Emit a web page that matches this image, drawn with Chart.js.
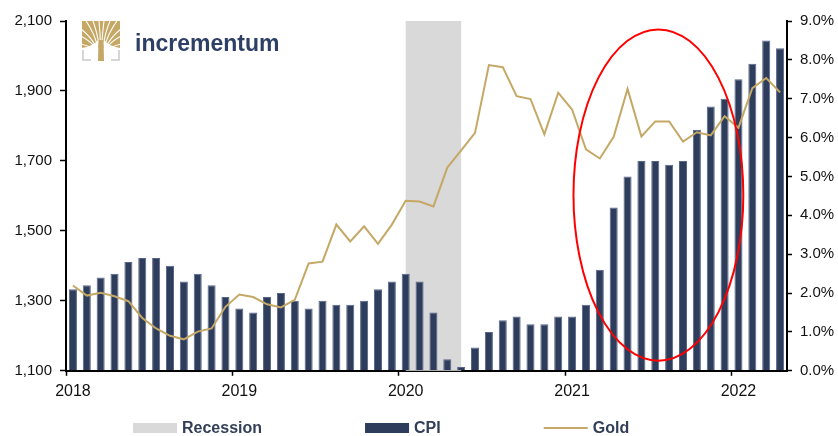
<!DOCTYPE html>
<html>
<head>
<meta charset="utf-8">
<script src="https://cdn.jsdelivr.net/npm/chart.js@4.4.0/dist/chart.umd.min.js"></script>
<style>
  html, body { margin: 0; padding: 0; background: #fff; }
  #wrap { width: 838px; height: 436px; position: relative; }
</style>
</head>
<body>
<div id="wrap"><canvas id="chart"></canvas></div>
<script>
// monthly categories, Jan 2018 - Apr 2022
const months = [
  "2018-01", "2018-02", "2018-03", "2018-04", "2018-05", "2018-06",
  "2018-07", "2018-08", "2018-09", "2018-10", "2018-11", "2018-12",
  "2019-01", "2019-02", "2019-03", "2019-04", "2019-05", "2019-06",
  "2019-07", "2019-08", "2019-09", "2019-10", "2019-11", "2019-12",
  "2020-01", "2020-02", "2020-03", "2020-04", "2020-05", "2020-06",
  "2020-07", "2020-08", "2020-09", "2020-10", "2020-11", "2020-12",
  "2021-01", "2021-02", "2021-03", "2021-04", "2021-05", "2021-06",
  "2021-07", "2021-08", "2021-09", "2021-10", "2021-11", "2021-12",
  "2022-01", "2022-02", "2022-03", "2022-04",
];

// US CPI, % yoy (right axis)
const cpiValues = [
  2.1, 2.2, 2.4, 2.5, 2.8, 2.9, 2.9, 2.7, 2.3, 2.5, 2.2, 1.9,
  1.6, 1.5, 1.9, 2.0, 1.8, 1.6, 1.8, 1.7, 1.7, 1.8, 2.1, 2.3,
  2.5, 2.3, 1.5, 0.3, 0.1, 0.6, 1.0, 1.3, 1.4, 1.2, 1.2, 1.4,
  1.4, 1.7, 2.6, 4.2, 5.0, 5.4, 5.4, 5.3, 5.4, 6.2, 6.8, 7.0,
  7.5, 7.9, 8.5, 8.3,
];

// gold in USD (left axis)
const goldValues = [
  1344, 1315, 1323, 1313, 1299, 1251, 1221, 1200, 1190, 1212, 1221, 1283,
  1318, 1311, 1290, 1281, 1303, 1407, 1412, 1518, 1470, 1513, 1463, 1518,
  1586, 1584, 1570, 1681, 1730, 1780, 1974, 1968, 1885, 1877, 1776, 1895,
  1847, 1733, 1707, 1769, 1906, 1770, 1813, 1813, 1755, 1782, 1773, 1828,
  1795, 1908, 1937, 1896,
];

const goldTicks = [1100, 1300, 1500, 1700, 1900, 2100];
const cpiTicks = [0, 1, 2, 3, 4, 5, 6, 7, 8, 9];

// recession shading, from/to category
const recessionFrom = "2020-01";
const recessionTo = "2020-05";

// highlight ellipse, in axis units (category index, gold)
const highlightX = [36.1, 48.35];
const highlightY = [1129, 2076];

const legendItems = ["Recession", "CPI", "Gold"];

const NAVY = "#2E3D5B";
const GOLD = "#C5A865";
const FONT = '"Liberation Sans", Arial, sans-serif';

Chart.defaults.font.family = FONT;
Chart.defaults.color = "#111";

const recessionShade = {
  id: "recessionShade",
  beforeDatasetsDraw(chart) {
    const { ctx, chartArea, scales } = chart;
    const x0 = scales.x.getPixelForValue(months.indexOf(recessionFrom));
    const x1 = scales.x.getPixelForValue(months.indexOf(recessionTo));
    ctx.save();
    ctx.fillStyle = "#D9D9D9";
    ctx.fillRect(x0, chartArea.top, x1 - x0, chartArea.bottom - chartArea.top);
    ctx.restore();
  },
};

const highlightEllipse = {
  id: "highlightEllipse",
  afterDatasetsDraw(chart) {
    const { ctx, scales } = chart;
    const l = scales.x.getPixelForValue(highlightX[0]);
    const r = scales.x.getPixelForValue(highlightX[1]);
    const b = scales.y.getPixelForValue(highlightY[0]);
    const t = scales.y.getPixelForValue(highlightY[1]);
    ctx.save();
    ctx.strokeStyle = "#FF0000";
    ctx.lineWidth = 2;
    ctx.beginPath();
    ctx.ellipse((l + r) / 2, (t + b) / 2, (r - l) / 2, (b - t) / 2, 0, 0, Math.PI * 2);
    ctx.stroke();
    ctx.restore();
  },
};

// logo + bottom legend
const decorations = {
  id: "decorations",
  afterDraw(chart) {
    const ctx = chart.ctx;
    ctx.save();

    // tree icon
    ctx.save();
    ctx.beginPath();
    ctx.rect(82, 21, 38, 27);
    ctx.clip();
    ctx.fillStyle = GOLD;
    ctx.fillRect(82, 21, 38, 27);
    ctx.strokeStyle = "#fff";
    ctx.lineWidth = 1.1;
    const fan = [
      [-20, 44], [-20, 36], [-20, 29], [-15, 21], [-8, 21], [-2, 21],
      [3, 21], [9, 21], [16, 21], [20, 29], [20, 36], [20, 44],
    ];
    fan.forEach(([dx, ty]) => {
      ctx.beginPath();
      ctx.moveTo(101 + dx * 0.15, 52);
      ctx.quadraticCurveTo(101 + dx * 0.35, ty + (52 - ty) * 0.45, 101 + dx, ty);
      ctx.stroke();
    });
    // cut out lower corners of the canopy
    ctx.fillStyle = "#fff";
    ctx.beginPath();
    ctx.moveTo(82, 48);
    ctx.quadraticCurveTo(94, 46, 98, 40);
    ctx.lineTo(98, 48);
    ctx.closePath();
    ctx.fill();
    ctx.beginPath();
    ctx.moveTo(120, 48);
    ctx.quadraticCurveTo(108, 46, 104, 40);
    ctx.lineTo(104, 48);
    ctx.closePath();
    ctx.fill();
    ctx.restore();
    // trunk
    ctx.fillStyle = GOLD;
    ctx.beginPath();
    ctx.moveTo(98.5, 40);
    ctx.lineTo(103.5, 40);
    ctx.lineTo(104, 61);
    ctx.lineTo(98, 61);
    ctx.closePath();
    ctx.fill();
    // grey brackets
    ctx.fillStyle = "#D6D6D6";
    ctx.fillRect(82, 50, 2, 11);
    ctx.fillRect(82, 59, 9, 2);
    ctx.fillRect(118, 50, 2, 11);
    ctx.fillRect(111, 59, 9, 2);

    ctx.fillStyle = "#2E3F66";
    ctx.font = "bold 23px " + FONT;
    ctx.textBaseline = "alphabetic";
    ctx.fillText("incrementum", 135, 51);

    // legend
    ctx.font = "bold 16px " + FONT;
    ctx.textBaseline = "middle";
    const y = 428;
    let x = 133;
    legendItems.forEach((label, i) => {
      if (i === 0) {
        ctx.fillStyle = "#D9D9D9";
        ctx.fillRect(x, y - 5, 44, 10);
      } else if (i === 1) {
        ctx.fillStyle = NAVY;
        ctx.fillRect(x, y - 5, 44, 10);
      } else {
        ctx.strokeStyle = GOLD;
        ctx.lineWidth = 2;
        ctx.beginPath();
        ctx.moveTo(x, y);
        ctx.lineTo(x + 44, y);
        ctx.stroke();
      }
      ctx.fillStyle = "#333F58";
      ctx.fillText(label, x + 49, y + 1);
      x += 49 + ctx.measureText(label).width + 103;
    });
    ctx.restore();
  },
};

new Chart(document.getElementById("chart"), {
  data: {
    labels: months,
    datasets: [
      {
        type: "line",
        label: "Gold",
        data: goldValues,
        yAxisID: "y",
        borderColor: GOLD,
        borderWidth: 2,
        pointRadius: 0,
        tension: 0,
        order: 0,
      },
      {
        type: "bar",
        label: "CPI",
        data: cpiValues,
        yAxisID: "y1",
        backgroundColor: NAVY,
        borderColor: "#56668A",
        borderWidth: 1,
        barPercentage: 0.58,
        categoryPercentage: 1,
        order: 1,
      },
    ],
  },
  options: {
    responsive: true,
    maintainAspectRatio: false,
    animation: false,
    layout: { padding: { top: 21, left: 0, right: 0, bottom: 29 } },
    plugins: {
      legend: { display: false },
      tooltip: { enabled: false },
    },
    scales: {
      x: {
        type: "category",
        offset: true,
        border: { display: true, color: "#000", width: 2 },
        grid: {
          display: true,
          offset: true,
          drawOnChartArea: false,
          tickLength: 5,
          tickWidth: 1.5,
          tickColor: (c) => (c.index % 12 === 0 ? "#000" : "rgba(0,0,0,0)"),
        },
        ticks: {
          autoSkip: false,
          maxRotation: 0,
          padding: 6,
          font: { size: 16 },
          callback: (v, i) => (months[i].endsWith("-01") ? months[i].slice(0, 4) : ""),
        },
      },
      y: {
        position: "left",
        min: goldTicks[0],
        max: goldTicks[goldTicks.length - 1],
        afterBuildTicks: (s) => { s.ticks = goldTicks.map((v) => ({ value: v })); },
        afterFit: (s) => { s.width = 66; },
        border: { display: true, color: "#000", width: 2 },
        grid: { drawOnChartArea: false, tickLength: 6, tickColor: "#000", tickWidth: 1.5 },
        ticks: {
          padding: 8,
          font: { size: 15 },
          callback: (v) => v.toLocaleString("en-US"),
        },
      },
      y1: {
        position: "right",
        min: cpiTicks[0],
        max: cpiTicks[cpiTicks.length - 1],
        afterBuildTicks: (s) => { s.ticks = cpiTicks.map((v) => ({ value: v })); },
        afterFit: (s) => { s.width = 51; },
        border: { display: true, color: "#000", width: 2 },
        grid: { drawOnChartArea: false, tickLength: 5, tickColor: "#000", tickWidth: 1.5 },
        ticks: {
          padding: 8,
          font: { size: 15 },
          callback: (v) => v.toFixed(1) + "%",
        },
      },
    },
  },
  plugins: [recessionShade, highlightEllipse, decorations],
});
</script>
</body>
</html>
